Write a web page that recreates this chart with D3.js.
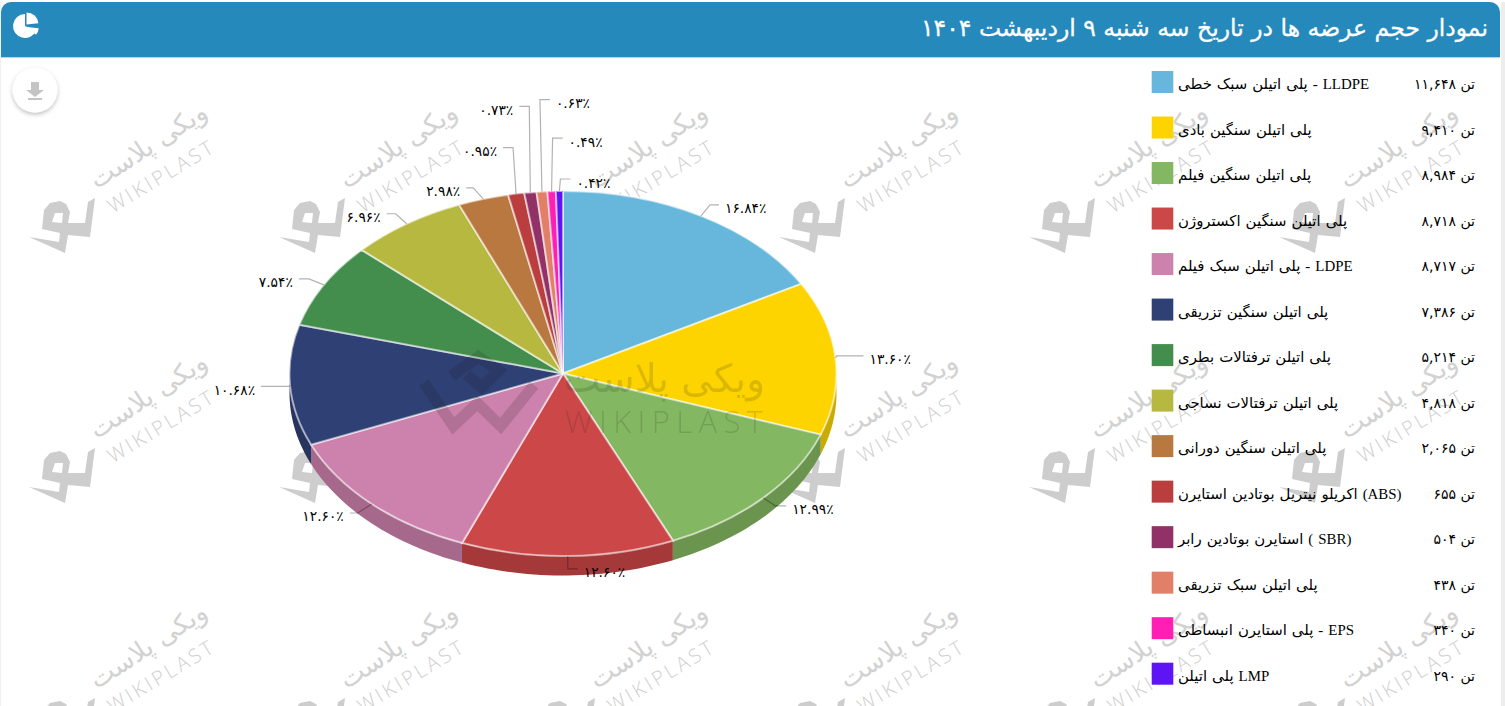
<!DOCTYPE html>
<html lang="fa"><head><meta charset="utf-8">
<style>
html,body{margin:0;padding:0;background:#fff;width:1505px;height:706px;overflow:hidden}
svg{display:block;position:absolute;left:0;top:0}
.t{font-family:"DejaVu Sans","Noto Sans",sans-serif}
.l{font-family:"Liberation Serif","DejaVu Sans",serif;word-spacing:1.3px}
</style>
<script src="https://cdn.jsdelivr.net/npm/d3@7/dist/d3.min.js"></script>
</head><body><svg id="c" width="1505" height="706"></svg>
<script>
const titleText = "نمودار حجم عرضه ها در تاریخ سه شنبه ۹ اردیبهشت ۱۴۰۴";
const categories = [
 "LLDPE - پلی اتیلن سبک خطی","پلی اتیلن سنگین بادی","پلی اتیلن سنگین فیلم","پلی اتیلن سنگین اکستروژن",
 "LDPE - پلی اتیلن سبک فیلم","پلی اتیلن سنگین تزریقی","پلی اتیلن ترفتالات بطری","پلی اتیلن ترفتالات نساجی",
 "پلی اتیلن سنگین دورانی","(ABS) اکریلو نیتریل بوتادین استایرن","(SBR ) استایرن بوتادین رابر","پلی اتیلن سبک تزریقی",
 "EPS - پلی استایرن انبساطی","LMP پلی اتیلن"];
const tons = [11648,9410,8984,8718,8717,7386,5214,4818,2065,655,504,438,340,290];
const percentLabels = ["۱۶.۸۴٪","۱۳.۶۰٪","۱۲.۹۹٪","۱۲.۶۰٪","۱۲.۶۰٪","۱۰.۶۸٪","۷.۵۴٪","۶.۹۶٪","۲.۹۸٪","۰.۹۵٪","۰.۷۳٪","۰.۶۳٪","۰.۴۹٪","۰.۴۲٪"];
const colors = ["#67b7dc","#fdd400","#84b761","#cc4748","#cd82ad","#2f4074","#448e4d","#b7b83f","#b9783f","#b93e3d","#913167","#e27f69","#ff1fb5","#5f14f5"];
// leader geometry relative to each slice's rim point: knee dx,dy then run length and side
const leaders = [[9,-11,9],[1,-2,27],[12,8,11],[0,13,10],[-14,9,-8],[-1,1,-28],[-15,-6,-10],[-11,-10,-9],[-10,-11,-7],[-3,-46,-10],[-1,-86,-10],[-2,-92,10],[1,-53,10],[1,-12,10]];

const W=1505,H=706,cx=563,cy=373.5,rx=273.5,ry=182.5,depth=19.5;
const svg=d3.select("#c");
const toPersian=n=>d3.format(",")(n).replace(/\d/g,d=>"۰۱۲۳۴۵۶۷۸۹"[d]);

svg.append("rect").attr("width",W).attr("height",H).attr("fill","#fff");
// tiled watermark
const defs=svg.append("defs");
const tile=defs.append("g").attr("id","wm");
tile.append("path").attr("fill","#cdcdcd").attr("fill-rule","evenodd")
 .attr("d","M29 237 L65 253 L68 235 L90 237 L95 198 L88 202 L85 223 L68 223 L70 212 L66 204 L60 201 L50 203 L44 210 L42 229 L60 233 L59 242 Z M52 222 L55 213 L63 213 L62 223 Z");
tile.append("text").attr("class","t").attr("transform","translate(153,153) rotate(-33)").attr("text-anchor","middle")
 .attr("font-size",26).attr("fill","#d2d2d2").attr("direction","rtl").text("ویکی پلاست");
tile.append("text").attr("transform","translate(165,182) rotate(-31)").attr("text-anchor","middle")
 .attr("font-family","'Open Sans',sans-serif").attr("font-weight",300).attr("font-size",20).attr("letter-spacing",3).attr("fill","#cfcfcf").text("WIKIPLAST");
d3.range(0,3).forEach(r=>d3.range(0,6).forEach(c=>svg.append("use").attr("href","#wm").attr("x",c*250).attr("y",r*250)));

// pie
const pie=d3.pie().sort(null).value(d=>d)(tons);
const pt=(a,dy=0)=>[cx+rx*Math.sin(a),cy-ry*Math.cos(a)+dy];
const shade=c=>d3.rgb(c).darker(0.6).formatHex();
const side=svg.append("g");
pie.forEach((s,i)=>{
  const a0=Math.max(s.startAngle,Math.PI/2),a1=Math.min(s.endAngle,Math.PI*1.5);
  if(a1<=a0) return;
  const n=Math.max(2,Math.ceil((a1-a0)*40));
  const ang=d3.range(n+1).map(k=>a0+(a1-a0)*k/n);
  const top=ang.map(a=>pt(a)),bot=ang.map(a=>pt(a,depth)).reverse();
  side.append("path").attr("d",d3.line()(top.concat(bot))+"Z").attr("fill",shade(colors[i]));
});
const arc=d3.arc().innerRadius(0).outerRadius(1);
const topG=svg.append("g").attr("transform",`translate(${cx},${cy}) scale(${rx},${ry})`);
topG.selectAll("path").data(pie).join("path").attr("d",arc).attr("fill",(d,i)=>colors[i])
 .attr("stroke","#fff").attr("stroke-opacity",.55).attr("stroke-width",2).attr("vector-effect","non-scaling-stroke");

// central watermark above the pie
const cw=svg.append("g").attr("opacity",.14);
cw.append("path").attr("transform","translate(400,340) scale(.3333)").attr("fill","none").attr("stroke","#111").attr("stroke-width",34)
 .attr("stroke-linejoin","miter").attr("d","M72 128 L160 258 L232 190 L302 258 L402 135 M155 108 L235 50 L296 92 L245 142 L200 105");
cw.append("text").attr("class","t").attr("x",765).attr("y",392).attr("text-anchor","start").attr("direction","rtl")
 .attr("font-size",39).attr("fill","#111").text("ویکی پلاست");
cw.append("text").attr("x",565).attr("y",433).attr("textLength",198).attr("font-family","'Open Sans',sans-serif").attr("font-weight",300).attr("font-size",31).attr("fill","#111").text("WIKIPLAST");

// leaders and labels
const lab=svg.append("g");
pie.forEach((s,i)=>{
  const [x0,y0]=pt((s.startAngle+s.endAngle)/2);
  const [kx,ky,run]=leaders[i];
  const x1=x0+kx,y1=y0+ky,x2=x1+run;
  lab.append("path").attr("d",d3.line()([[x0,y0],[x1,y1],[x2,y1]])).attr("fill","none").attr("stroke","#000").attr("stroke-opacity",.3).attr("stroke-width",1.2);
  lab.append("text").attr("class","t").attr("x",run>0?x2+6:x2-6).attr("y",y1+8.5).attr("text-anchor",run>0?"start":"end")
    .attr("font-size",13.8).attr("fill","#000").text(percentLabels[i]);
});

// legend
const ly=d3.scaleLinear().domain([0,13]).range([82,673.7]);
const leg=svg.append("g").selectAll("g").data(categories).join("g").attr("transform",(d,i)=>`translate(0,${ly(i)})`);
leg.append("rect").attr("x",1151.7).attr("y",-11).attr("width",21.6).attr("height",22).attr("fill",(d,i)=>colors[i]);
leg.append("text").attr("class","l").attr("x",1178).attr("y",7).attr("direction","rtl").attr("text-anchor","end").attr("font-size",14.9).attr("fill","#000").text(d=>d);
leg.append("text").attr("class","t").attr("x",1475).attr("y",7).attr("direction","rtl").attr("text-anchor","start").attr("font-size",14).attr("fill","#000").text((d,i)=>"تن "+toPersian(tons[i]));

// download button
const f=defs.append("filter").attr("id","sh").attr("x","-30%").attr("y","-30%").attr("width","160%").attr("height","160%");
f.append("feDropShadow").attr("dx",0).attr("dy",2).attr("stdDeviation",2.2).attr("flood-color","#000").attr("flood-opacity",.25);
svg.append("circle").attr("cx",35).attr("cy",90).attr("r",22.5).attr("fill","#fff").attr("filter","url(#sh)");
svg.append("path").attr("fill","#c4c4c4").attr("d","M31 82 H39 V90 H44 L35 97 L26 90 H31 Z M28 98 H42 V100 H28 Z");

// header and frame
svg.append("rect").attr("x",1501).attr("width",4).attr("height",H).attr("fill","#ededed");
svg.append("rect").attr("x",0).attr("width",1).attr("height",H).attr("fill","#f0f0f0");
svg.append("rect").attr("y",0).attr("width",W).attr("height",2).attr("fill","#fff");
svg.append("path").attr("fill","#2589bb").attr("d","M1 57 V12 A10 10 0 0 1 11 2 H1490 A10 10 0 0 1 1500 12 V57 Z");
svg.append("rect").attr("x",1).attr("y",57).attr("width",1499).attr("height",1.2).attr("fill","#b9d6e4");
svg.append("text").attr("class","t").attr("x",1488).attr("y",36).attr("direction","rtl").attr("text-anchor","start").attr("font-size",23.5).attr("fill","#fff").attr("stroke","#fff").attr("stroke-width",.3).text(titleText);
// header icon
const hi=d3.arc().innerRadius(0).outerRadius(12);
const ic=svg.append("g").attr("transform","translate(25,26)").attr("fill","#fff");
ic.append("path").attr("d",hi({startAngle:Math.PI*.62,endAngle:Math.PI*2}));
ic.append("path").attr("transform","translate(1.5,-1.5)").attr("d",hi({startAngle:0,endAngle:Math.PI*.47}));
ic.append("path").attr("transform","translate(1.8,1)").attr("d",hi({startAngle:Math.PI*.53,endAngle:Math.PI*.72}));
</script></body></html>
